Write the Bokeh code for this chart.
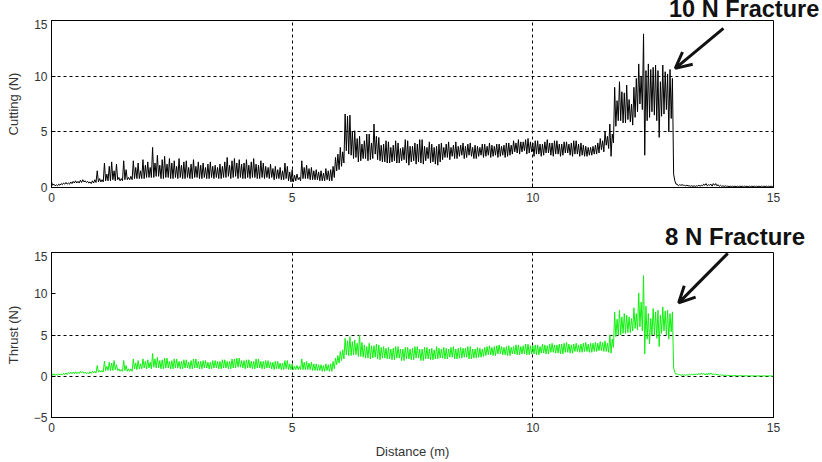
from bokeh.plotting import figure
from bokeh.layouts import column
from bokeh.models import Arrow, OpenHead, FixedTicker, Range1d, Div
from bokeh.embed import file_html
from bokeh.resources import INLINE

# ---- data: for every 0.05 m, the upper and lower noise excursion ----
bin_step = 0.05

cutting_hi = [
    0.5, 0.3, 0.25, 0.3, 0.35, 0.4, 0.45, 0.4, 0.5, 0.55, 0.6, 0.55, 0.65, 0.7, 0.6, 0.55, 0.5, 0.6, 0.7, 1.5,
    0.8, 0.7, 2.2, 1.2, 1.9, 2.3, 1.5, 2.1, 0.9, 0.8, 2.4, 1.6, 0.9, 1.0, 2.4, 1.8, 2.2, 1.5, 2.5, 2.0,
    2.3, 1.8, 3.6, 2.2, 2.9, 2.0, 2.5, 2.8, 2.1, 2.6, 2.2, 2.4, 1.9, 2.6, 2.0, 2.3, 2.4, 1.8, 2.1, 2.5,
    1.9, 2.3, 2.0, 2.2, 1.8, 2.1, 2.3, 1.9, 2.0, 1.8, 2.1, 1.9, 2.3, 2.7, 2.0, 2.4, 2.6, 2.2, 2.5, 2.1,
    2.2, 2.5, 2.0, 2.3, 2.6, 2.1, 2.0, 2.4, 2.2, 1.9, 1.8, 2.1, 1.7, 1.9, 1.6, 1.8, 1.5, 2.2, 1.9, 1.4,
    1.6, 1.1, 1.2, 0.9, 2.4, 1.8, 2.0, 1.7, 1.8, 1.5, 1.6, 1.4, 1.5, 1.3, 1.7, 1.5, 1.6, 1.9, 2.7, 3.0,
    3.6, 3.2, 6.6, 6.4, 6.5, 5.0, 5.1, 4.4, 4.6, 3.9, 4.2, 4.8, 4.8, 4.0, 5.7, 4.6, 4.5, 3.8, 3.9, 4.2,
    4.1, 3.6, 3.8, 4.2, 4.0, 3.5, 3.6, 4.3, 4.2, 3.7, 3.7, 4.0, 3.9, 4.3, 4.3, 3.7, 3.6, 4.1, 3.9, 3.6,
    3.7, 3.9, 4.0, 3.6, 3.9, 4.1, 3.6, 3.8, 4.1, 3.7, 3.8, 4.0, 3.7, 3.9, 4.0, 3.6, 3.8, 3.7, 3.6, 3.9,
    3.9, 3.7, 4.0, 3.8, 3.7, 3.9, 3.9, 3.7, 3.8, 4.0, 4.0, 3.8, 4.2, 4.0, 4.3, 4.1, 4.1, 4.3, 4.4, 4.1,
    4.0, 4.2, 4.2, 3.9, 3.9, 4.1, 4.3, 4.0, 4.0, 4.2, 4.2, 3.9, 3.9, 4.1, 4.1, 3.9, 4.0, 4.2, 4.2, 3.9,
    4.0, 3.8, 3.7, 3.6, 3.6, 3.7, 3.8, 4.0, 4.4, 4.2, 5.0, 4.6, 5.7, 4.8, 9.0, 7.8, 9.5, 8.6, 8.5, 9.2,
    7.9, 7.5, 9.0, 9.8, 11.1, 10.0, 13.8, 10.5, 11.1, 10.6, 10.8, 11.0, 10.5, 9.5, 11.0, 10.4, 10.2, 10.6, 9.8, 0.6,
    0.3, 0.25, 0.25, 0.2, 0.2, 0.15, 0.15, 0.15, 0.15, 0.2, 0.2, 0.3, 0.35, 0.25, 0.3, 0.35, 0.35, 0.25, 0.2, 0.15,
    0.15, 0.12, 0.12, 0.12, 0.12, 0.12, 0.12, 0.12, 0.12, 0.12, 0.12, 0.12, 0.12, 0.12, 0.12, 0.12, 0.12, 0.12, 0.12, 0.12,
]
cutting_lo = [
    0.2, 0.15, 0.15, 0.2, 0.25, 0.3, 0.3, 0.3, 0.35, 0.4, 0.4, 0.4, 0.45, 0.5, 0.45, 0.4, 0.35, 0.4, 0.45, 0.5,
    0.5, 0.5, 0.6, 0.6, 0.6, 0.7, 0.6, 0.7, 0.6, 0.6, 0.7, 0.7, 0.7, 0.7, 0.8, 0.8, 0.8, 0.8, 0.8, 0.9,
    0.9, 0.9, 0.9, 1.0, 1.0, 0.8, 0.8, 0.9, 0.9, 0.8, 0.8, 0.9, 0.8, 0.9, 0.8, 0.8, 0.9, 0.8, 0.8, 0.9,
    0.9, 0.8, 0.8, 0.9, 0.8, 0.8, 0.9, 0.8, 0.9, 0.8, 0.8, 0.9, 0.9, 1.0, 0.8, 0.9, 1.0, 0.8, 0.9, 0.8,
    0.8, 0.9, 0.8, 0.9, 0.9, 0.8, 0.8, 0.9, 0.8, 0.9, 0.8, 0.9, 0.7, 0.8, 0.8, 0.7, 0.7, 0.8, 0.6, 0.5,
    0.5, 0.6, 0.7, 0.6, 0.8, 0.8, 0.8, 0.7, 0.7, 0.7, 0.7, 0.6, 0.6, 0.6, 0.7, 0.6, 0.6, 0.9, 1.5, 1.6,
    1.9, 2.2, 3.3, 3.0, 2.9, 2.6, 2.7, 2.3, 2.4, 2.6, 2.6, 2.4, 2.5, 2.6, 3.0, 2.5, 2.4, 2.3, 2.3, 2.2,
    2.2, 2.3, 2.4, 2.2, 2.2, 2.4, 2.5, 2.2, 2.0, 2.3, 2.4, 2.1, 2.3, 2.2, 2.1, 2.4, 2.6, 2.2, 2.3, 2.1,
    2.0, 2.3, 2.5, 2.7, 2.7, 2.5, 2.8, 2.6, 2.6, 2.8, 2.9, 2.6, 2.7, 2.9, 2.8, 2.6, 2.6, 2.8, 2.9, 2.7,
    2.8, 2.9, 2.7, 2.8, 2.9, 2.7, 2.8, 2.9, 2.7, 2.8, 2.9, 3.0, 3.2, 3.1, 3.0, 3.2, 3.3, 3.0, 3.1, 3.2,
    2.8, 3.0, 3.0, 2.8, 2.9, 3.1, 3.1, 2.9, 2.8, 3.0, 3.0, 2.8, 2.9, 3.1, 3.1, 2.9, 2.8, 3.0, 3.0, 2.8,
    2.9, 2.8, 2.8, 2.9, 2.9, 3.0, 3.0, 3.1, 3.4, 3.2, 3.8, 3.5, 2.8, 4.0, 5.5, 6.0, 6.0, 5.8, 5.8, 6.1,
    5.9, 5.6, 6.3, 6.8, 7.5, 7.0, 2.9, 6.0, 6.3, 6.8, 6.5, 6.0, 4.5, 6.4, 6.6, 7.0, 5.0, 6.2, 1.2, 0.3,
    0.15, 0.2, 0.2, 0.15, 0.15, 0.12, 0.1, 0.1, 0.12, 0.12, 0.15, 0.2, 0.15, 0.2, 0.12, 0.2, 0.15, 0.1, 0.1, 0.1,
    0.1, 0.08, 0.08, 0.08, 0.08, 0.08, 0.08, 0.08, 0.08, 0.08, 0.08, 0.08, 0.08, 0.08, 0.08, 0.08, 0.08, 0.08, 0.08, 0.08,
]
thrust_hi = [
    0.4, 0.3, 0.25, 0.3, 0.3, 0.35, 0.4, 0.45, 0.5, 0.5, 0.55, 0.5, 0.6, 0.55, 0.5, 0.45, 0.55, 0.6, 0.6, 1.3,
    0.7, 0.7, 1.85, 1.2, 1.7, 1.6, 1.9, 1.4, 0.9, 0.8, 1.9, 1.3, 0.9, 0.9, 2.1, 1.6, 1.9, 1.5, 2.1, 1.8,
    2.0, 1.7, 2.75, 2.1, 2.3, 1.9, 2.0, 2.2, 2.2, 1.8, 1.9, 2.1, 2.1, 1.8, 1.8, 2.0, 2.0, 1.7, 1.9, 2.1,
    2.1, 1.8, 1.8, 1.9, 1.9, 1.7, 1.7, 1.9, 1.9, 1.8, 1.8, 2.0, 2.0, 1.8, 1.8, 2.1, 2.1, 2.2, 2.2, 1.9,
    1.9, 2.0, 2.0, 1.8, 1.8, 2.1, 2.1, 1.8, 1.8, 1.9, 1.9, 1.7, 1.7, 1.8, 1.8, 1.6, 1.6, 1.9, 1.9, 1.5,
    1.5, 1.2, 1.3, 1.2, 2.1, 1.7, 1.8, 1.6, 1.7, 1.5, 1.5, 1.4, 1.4, 1.3, 1.5, 1.4, 1.5, 1.8, 2.2, 2.5,
    3.0, 3.2, 4.6, 4.3, 4.8, 4.2, 4.4, 4.0, 5.0, 4.1, 3.8, 3.6, 4.0, 3.7, 3.7, 3.9, 3.8, 3.5, 3.6, 3.4,
    3.5, 3.3, 3.4, 3.6, 3.6, 3.3, 3.3, 3.5, 3.5, 3.3, 3.4, 3.6, 3.6, 3.3, 3.3, 3.5, 3.5, 3.3, 3.4, 3.2,
    3.6, 3.4, 3.3, 3.5, 3.4, 3.3, 3.5, 3.6, 3.3, 3.4, 3.5, 3.4, 3.4, 3.6, 3.6, 3.3, 3.3, 3.5, 3.4, 3.3,
    3.5, 3.6, 3.7, 3.5, 3.6, 3.7, 3.8, 3.6, 3.5, 3.6, 3.7, 3.5, 3.6, 3.8, 3.8, 3.6, 3.7, 3.9, 3.9, 3.7,
    3.7, 3.8, 3.8, 3.6, 3.9, 3.8, 3.7, 3.9, 4.0, 3.8, 3.8, 3.9, 3.9, 4.0, 4.1, 3.9, 3.8, 3.9, 4.0, 3.8,
    3.9, 4.0, 4.1, 3.9, 4.0, 4.0, 4.1, 4.0, 4.2, 4.1, 4.3, 4.0, 5.0, 4.5, 7.8, 6.9, 8.0, 7.2, 7.6, 7.4,
    7.2, 7.0, 8.3, 7.6, 10.1, 9.0, 12.2, 8.5, 7.6, 7.0, 8.2, 7.8, 8.0, 7.4, 8.4, 7.9, 8.0, 7.6, 7.8, 0.5,
    0.3, 0.2, 0.2, 0.2, 0.2, 0.25, 0.25, 0.3, 0.3, 0.35, 0.4, 0.35, 0.35, 0.4, 0.4, 0.3, 0.3, 0.25, 0.2, 0.15,
    0.15, 0.12, 0.1, 0.1, 0.1, 0.08, 0.08, 0.08, 0.08, 0.06, 0.06, 0.06, 0.06, 0.05, 0.05, 0.05, 0.05, 0.05, 0.05, 0.05,
]
thrust_lo = [
    0.1, 0.1, 0.1, 0.15, 0.15, 0.2, 0.2, 0.3, 0.3, 0.3, 0.3, 0.35, 0.4, 0.35, 0.3, 0.3, 0.35, 0.4, 0.4, 0.5,
    0.5, 0.5, 0.7, 0.7, 0.65, 0.7, 0.8, 0.7, 0.6, 0.6, 0.7, 0.6, 0.6, 0.6, 0.9, 0.8, 0.9, 0.9, 1.0, 0.9,
    1.0, 0.9, 1.1, 1.0, 1.0, 0.9, 0.9, 1.0, 1.0, 0.9, 0.9, 1.0, 1.0, 0.9, 0.9, 1.0, 1.0, 0.9, 0.9, 1.0,
    1.0, 0.9, 0.9, 1.0, 1.0, 0.9, 0.9, 1.0, 1.0, 0.9, 0.9, 1.0, 1.0, 0.9, 0.9, 1.0, 1.0, 1.1, 1.1, 1.0,
    0.9, 1.0, 1.0, 0.9, 0.9, 1.0, 1.0, 0.9, 0.9, 1.0, 1.0, 0.9, 0.8, 0.9, 0.9, 0.8, 0.8, 0.9, 0.8, 0.8,
    0.8, 0.8, 0.8, 0.8, 0.8, 0.8, 0.8, 0.8, 0.7, 0.7, 0.7, 0.7, 0.6, 0.6, 0.7, 0.6, 0.6, 0.9, 1.4, 1.6,
    1.9, 2.1, 2.6, 2.5, 2.5, 2.6, 2.6, 2.4, 2.4, 2.3, 2.2, 2.2, 2.1, 2.2, 2.3, 2.1, 2.0, 2.2, 2.2, 2.1,
    2.1, 2.0, 2.0, 2.2, 2.2, 1.9, 1.9, 2.1, 2.1, 2.0, 2.0, 2.2, 2.2, 1.9, 1.9, 2.1, 2.1, 2.0, 2.0, 2.1,
    2.1, 2.2, 2.2, 2.1, 2.1, 2.3, 2.3, 2.1, 2.1, 2.2, 2.2, 2.3, 2.3, 2.1, 2.1, 2.2, 2.2, 2.3, 2.3, 2.4,
    2.5, 2.6, 2.6, 2.5, 2.5, 2.7, 2.7, 2.6, 2.6, 2.5, 2.5, 2.7, 2.7, 2.6, 2.6, 2.7, 2.7, 2.6, 2.6, 2.7,
    2.7, 2.6, 2.6, 2.8, 2.8, 2.7, 2.7, 2.9, 2.9, 2.8, 2.8, 2.7, 2.7, 2.9, 2.9, 2.8, 2.8, 3.0, 3.0, 2.9,
    2.9, 3.0, 3.0, 2.9, 2.9, 3.0, 3.0, 3.1, 3.1, 3.0, 3.0, 2.9, 2.8, 3.5, 4.8, 5.0, 5.0, 5.2, 5.2, 5.3,
    5.3, 5.5, 5.8, 5.6, 6.0, 5.5, 2.7, 4.5, 3.9, 5.0, 5.0, 4.6, 3.6, 5.2, 5.5, 5.0, 4.5, 5.4, 1.0, 0.25,
    0.15, 0.1, 0.12, 0.1, 0.12, 0.15, 0.15, 0.15, 0.15, 0.2, 0.2, 0.15, 0.15, 0.2, 0.2, 0.15, 0.15, 0.1, 0.1, 0.1,
    0.08, 0.06, 0.05, 0.05, 0.05, 0.04, 0.04, 0.04, 0.04, 0.04, 0.03, 0.03, 0.03, 0.03, 0.03, 0.03, 0.03, 0.03, 0.03, 0.03,
]

x_ticks = [0, 5, 10, 15]
cut_yticks = [0, 5, 10, 15]
thr_yticks = [-5, 0, 5, 10, 15]
top_note = "10 N Fracture"
bottom_note = "8 N Fracture"


def zigzag(hi, lo):
    xs, ys = [], []
    for i in range(len(hi)):
        x0 = round(i * bin_step, 4)
        xs += [x0, x0 + bin_step / 2]
        ys += [hi[i], lo[i]]
    xs.append(15.0)
    ys.append(lo[-1])
    return xs, ys


FONT = "Liberation Sans"


def make_fig(h, yr, yticks, ygrid, top, bottom, ylabel, xlabel=None):
    p = figure(width=822, height=h, x_range=Range1d(0, 15), y_range=Range1d(*yr),
               output_backend="svg", toolbar_location=None,
               min_border_left=51, min_border_right=49,
               min_border_top=top, min_border_bottom=bottom)
    p.outline_line_color = "black"
    p.outline_line_alpha = 1
    p.outline_line_width = 1
    p.background_fill_color = "white"
    p.border_fill_color = "white"
    p.xaxis.ticker = FixedTicker(ticks=x_ticks)
    p.yaxis.ticker = FixedTicker(ticks=yticks)
    p.xgrid.ticker = FixedTicker(ticks=[5, 10])
    p.ygrid.ticker = FixedTicker(ticks=ygrid)
    for g in (p.xgrid, p.ygrid):
        g.grid_line_color = "black"
        g.grid_line_dash = "3 3"
        g.grid_line_width = 1
        g.grid_line_alpha = 1
    for ax in (p.xaxis, p.yaxis):
        ax.axis_line_color = "black"
        ax.major_tick_in = 4
        ax.major_tick_out = 0
        ax.minor_tick_line_color = None
        ax.major_tick_line_color = "black"
        ax.major_label_text_font = FONT
        ax.major_label_text_font_size = "12px"
        ax.major_label_text_color = "#333333"
        ax.axis_label_text_font = FONT
        ax.axis_label_text_font_size = "13px"
        ax.axis_label_text_font_style = "normal"
        ax.axis_label_text_color = "#333333"
    p.yaxis.major_label_standoff = 4
    p.xaxis.major_label_standoff = 5
    p.yaxis.axis_label = ylabel
    p.yaxis.axis_label_standoff = 10
    if xlabel:
        p.xaxis.axis_label = xlabel
        p.xaxis.axis_label_standoff = 9
    return p


def note_div(text, h, left, top, size, lh):
    html = ('<span style="display:inline-block; position:relative; left:%dpx; top:%dpx; '
            'white-space:nowrap; font-family:\'Liberation Sans\', Arial, sans-serif; '
            'font-weight:bold; font-size:%spx; line-height:%dpx; color:#111111;">%s</span>'
            % (left, top, size, lh, text))
    return Div(text=html, width=822, height=h, styles={"overflow": "hidden", "margin": "0"})


d1 = note_div(top_note, 19, 669, 1, "23.5", 17)

p1 = make_fig(191, (0, 15), cut_yticks, [5, 10], 1, 23, "Cutting (N)")
cx, cy = zigzag(cutting_hi, cutting_lo)
p1.line(cx, cy, line_color="black", line_width=1)
p1.add_layout(Arrow(x_start=13.96, y_start=14.3, x_end=12.96, y_end=10.7,
                    line_width=3, line_color="#111111",
                    end=OpenHead(size=16, line_width=3, line_color="#111111")))

d2 = note_div(bottom_note, 41, 665, 15, "24", 24)

p2 = make_fig(211, (-5, 15), thr_yticks, [0, 5], 1, 45, "Thrust (N)", "Distance (m)")
tx, ty = zigzag(thrust_hi, thrust_lo)
p2.line(tx, ty, line_color="#10f010", line_width=1)
p2.add_layout(Arrow(x_start=14.05, y_start=14.9, x_end=13.03, y_end=8.9,
                    line_width=3, line_color="#111111",
                    end=OpenHead(size=16, line_width=3, line_color="#111111")))

layout = column(d1, p1, d2, p2, spacing=0)
open("out.html", "w").write(file_html(layout, INLINE))
